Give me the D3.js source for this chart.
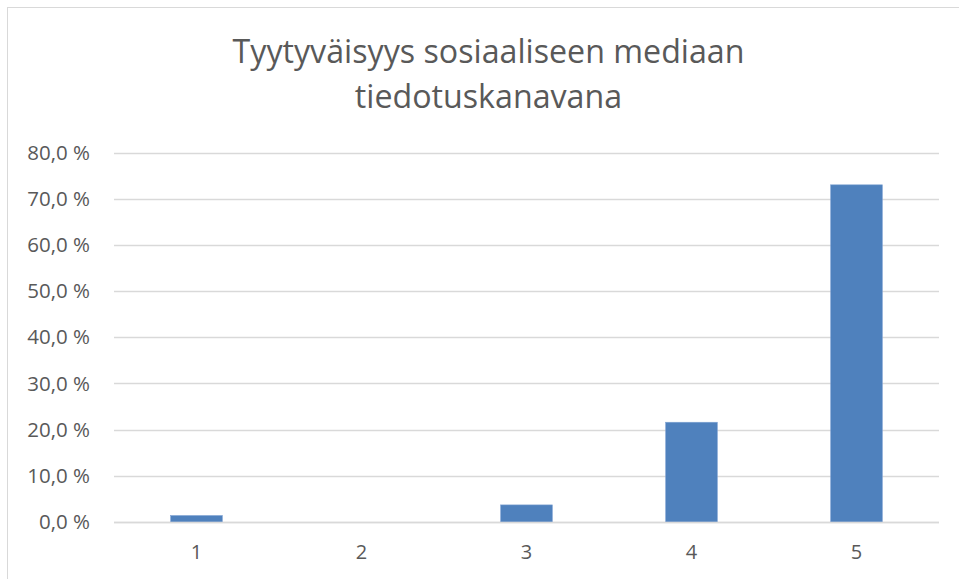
<!DOCTYPE html>
<html>
<head>
<meta charset="utf-8">
<script src="https://cdn.jsdelivr.net/npm/d3@7"></script>
<style>
  html, body { margin: 0; padding: 0; background: #fff; }
  svg { display: block; }
  text { font-family: "Open Sans", Lato, sans-serif; fill: #595959; }
</style>
</head>
<body>
<script>
const categories = ["1", "2", "3", "4", "5"];
const values = [1.4, 0.0, 3.7, 21.6, 73.0];
const yTicks = [0, 10, 20, 30, 40, 50, 60, 70, 80];
const titleLines = ["Tyytyväisyys sosiaaliseen mediaan", "tiedotuskanavana"];

const W = 959, H = 579;
const svg = d3.select("body").append("svg").attr("width", W).attr("height", H);

// chart frame
svg.append("rect")
  .attr("x", 7.5).attr("y", 7.5)
  .attr("width", W + 10).attr("height", H + 10)
  .attr("fill", "#fff").attr("stroke", "#d9d9d9").attr("stroke-width", 1);

const plot = { left: 114, right: 939, top: 152.5, bottom: 522 };

const x = d3.scaleBand()
  .domain(categories)
  .range([plot.left, plot.right])
  .paddingInner(0.687)
  .paddingOuter(0.3435);

const y = d3.scaleLinear().domain([0, 80]).range([plot.bottom, plot.top]);

// gridlines
svg.append("g").selectAll("line").data(yTicks).join("line")
  .attr("x1", plot.left).attr("x2", plot.right)
  .attr("y1", d => Math.round(y(d)) + 0.5).attr("y2", d => Math.round(y(d)) + 0.5)
  .attr("stroke", "#d9d9d9").attr("stroke-width", 1.3);

// y axis labels
const fmt = d => d.toFixed(1).replace(".", ",") + "\u00a0%";
const yAxis = d3.axisLeft(y).tickValues(yTicks).tickFormat(fmt).tickSize(0).tickPadding(0);
const gy = svg.append("g").attr("transform", `translate(90,0)`).call(yAxis);
gy.select(".domain").remove();
gy.selectAll("text").attr("font-size", 20.5).attr("fill", "#595959")
  .attr("font-family", "'Open Sans', Lato, sans-serif");

// bars
svg.append("g").selectAll("rect").data(values).join("rect")
  .attr("x", (d, i) => x(categories[i]))
  .attr("width", x.bandwidth())
  .attr("y", d => y(d))
  .attr("height", d => y(0) - y(d))
  .attr("fill", "#4f81bd")
  .attr("stroke", "#7ea1d2").attr("stroke-width", 0.6);

// baseline
svg.append("line")
  .attr("x1", plot.left).attr("x2", plot.right)
  .attr("y1", y(0) + 0.5).attr("y2", y(0) + 0.5)
  .attr("stroke", "#d9d9d9").attr("stroke-width", 1.3);

// x axis labels
const xAxis = d3.axisBottom(x).tickSize(0).tickPadding(0);
const gx = svg.append("g").attr("transform", `translate(0,${plot.bottom + 23})`).call(xAxis);
gx.select(".domain").remove();
gx.selectAll("text").attr("font-size", 20).attr("fill", "#595959")
  .attr("font-family", "'Open Sans', Lato, sans-serif");

// title
svg.append("text")
  .attr("text-anchor", "middle")
  .attr("font-size", 32.2)
  .selectAll("tspan").data(titleLines).join("tspan")
  .attr("x", 488.5).attr("y", (d, i) => 63 + i * 45)
  .text(d => d);
</script>
</body>
</html>
